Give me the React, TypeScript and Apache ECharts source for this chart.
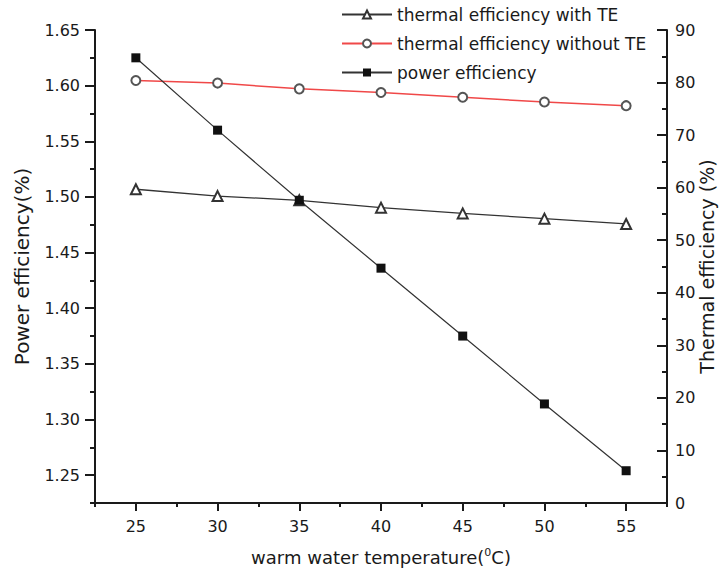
import React, { useEffect, useRef } from "react";
import * as echarts from "echarts";

// Warm water temperature (°C)
const temperatures = [25, 30, 35, 40, 45, 50, 55];
// Power efficiency (%), left axis
const powerEfficiency = [1.625, 1.56, 1.497, 1.436, 1.375, 1.314, 1.254];
// Thermal efficiency (%), right axis
const thermalWithTE = [59.7, 58.4, 57.6, 56.2, 55.1, 54.1, 53.1];
const thermalWithoutTE = [80.4, 79.9, 78.8, 78.1, 77.2, 76.3, 75.6];

// Tick positions
const xMajorTicks = [25, 30, 35, 40, 45, 50, 55];
const xMinorTicks = [22.5, 27.5, 32.5, 37.5, 42.5, 47.5, 52.5, 57.5];
const leftMajorTicks = [1.25, 1.3, 1.35, 1.4, 1.45, 1.5, 1.55, 1.6, 1.65];
const leftMinorTicks = [1.225, 1.275, 1.325, 1.375, 1.425, 1.475, 1.525, 1.575, 1.625];

const INK = "#1a1a1a";
const FONT = "'DejaVu Sans', Verdana, sans-serif";

const pairs = (ys: number[]) => temperatures.map((t, i) => [t, ys[i]]);

export default function App() {
  const ref = useRef<HTMLDivElement>(null);

  useEffect(() => {
    if (!ref.current) return;
    const chart = echarts.init(ref.current, null, { renderer: "svg" });
    const labelStyle = { color: INK, fontSize: 16, fontFamily: FONT };
    chart.setOption({
      animation: false,
      backgroundColor: "#ffffff",
      grid: { left: 95, right: 56, top: 30, bottom: 70, outerBoundsMode: "none" },
      legend: {
        orient: "vertical",
        left: 336,
        top: 1,
        itemWidth: 50,
        itemHeight: 10,
        itemGap: 12,
        textStyle: { color: INK, fontSize: 17, fontFamily: FONT },
        data: ["thermal efficiency with TE", "thermal efficiency without TE", "power efficiency"],
      },
      xAxis: [
        {
          type: "value",
          min: 22.5,
          max: 57.5,
          name: "warm water temperature({sup|0}C)",
          nameLocation: "middle",
          nameGap: 44,
          nameMoveOverlap: false,
          nameTextStyle: {
            color: INK,
            fontSize: 18,
            fontFamily: FONT,
            rich: { sup: { fontSize: 11, fontFamily: FONT, verticalAlign: "top", padding: [0, 0, 10, 0], color: INK } },
          },
          axisLine: { show: true, lineStyle: { color: INK, width: 2 } },
          axisTick: { show: true, length: 8, customValues: xMajorTicks, lineStyle: { color: INK, width: 2 } },
          axisLabel: { ...labelStyle, margin: 15, customValues: xMajorTicks },
          splitLine: { show: false },
        },
        {
          type: "value",
          position: "bottom",
          min: 22.5,
          max: 57.5,
          axisLine: { show: false },
          axisTick: { show: true, length: 4, customValues: xMinorTicks, lineStyle: { color: INK, width: 2 } },
          axisLabel: { show: false, customValues: xMinorTicks },
          splitLine: { show: false },
        },
      ],
      yAxis: [
        {
          type: "value",
          position: "left",
          min: 1.225,
          max: 1.65,
          name: "Power efficiency(%)",
          nameLocation: "middle",
          nameRotate: 90,
          nameGap: 63,
          nameMoveOverlap: false,
          nameTextStyle: { color: INK, fontSize: 20, fontFamily: FONT },
          axisLine: { show: true, lineStyle: { color: INK, width: 2 } },
          axisTick: { show: true, length: 10, customValues: leftMajorTicks, lineStyle: { color: INK, width: 2 } },
          axisLabel: {
            ...labelStyle,
            margin: 15,
            customValues: leftMajorTicks,
            formatter: (v: number) => v.toFixed(2),
          },
          splitLine: { show: false },
        },
        {
          type: "value",
          position: "left",
          min: 1.225,
          max: 1.65,
          axisLine: { show: false },
          axisTick: { show: true, length: 5, customValues: leftMinorTicks, lineStyle: { color: INK, width: 2 } },
          axisLabel: { show: false, customValues: leftMinorTicks },
          splitLine: { show: false },
        },
        {
          type: "value",
          position: "right",
          min: 0,
          max: 90,
          interval: 10,
          name: "Thermal efficiency (%)",
          nameLocation: "middle",
          nameRotate: 90,
          nameGap: 30,
          nameMoveOverlap: false,
          nameTextStyle: { color: INK, fontSize: 19, fontFamily: FONT },
          axisLine: { show: true, lineStyle: { color: INK, width: 2 } },
          axisTick: { show: true, inside: true, length: 10, lineStyle: { color: INK, width: 2 } },
          minorTick: { show: true, splitNumber: 2, length: 5, lineStyle: { color: INK, width: 2 } },
          axisLabel: { ...labelStyle, margin: 8 },
          splitLine: { show: false },
        },
      ],
      series: [
        {
          name: "thermal efficiency with TE",
          type: "line",
          yAxisIndex: 2,
          data: pairs(thermalWithTE),
          symbol: "emptyTriangle",
          symbolSize: 10,
          color: "#333333",
          lineStyle: { color: "#333333", width: 1.3 },
          itemStyle: { color: "#333333", borderWidth: 1.3 },
          z: 3,
        },
        {
          name: "thermal efficiency without TE",
          type: "line",
          yAxisIndex: 2,
          data: pairs(thermalWithoutTE),
          symbol: "emptyCircle",
          symbolSize: 9,
          color: "#f04848",
          lineStyle: { color: "#f04848", width: 1.5 },
          itemStyle: { color: "#555555", borderColor: "#555555", borderWidth: 1.3 },
          z: 3,
        },
        {
          name: "power efficiency",
          type: "line",
          yAxisIndex: 0,
          data: pairs(powerEfficiency),
          symbol: "rect",
          symbolSize: 9,
          color: "#111111",
          lineStyle: { color: "#333333", width: 1.2 },
          itemStyle: { color: "#111111" },
          z: 4,
        },
      ],
    });
    return () => chart.dispose();
  }, []);

  return <div ref={ref} style={{ width: 723, height: 573, position: "absolute", left: 0, top: 0 }} />;
}
